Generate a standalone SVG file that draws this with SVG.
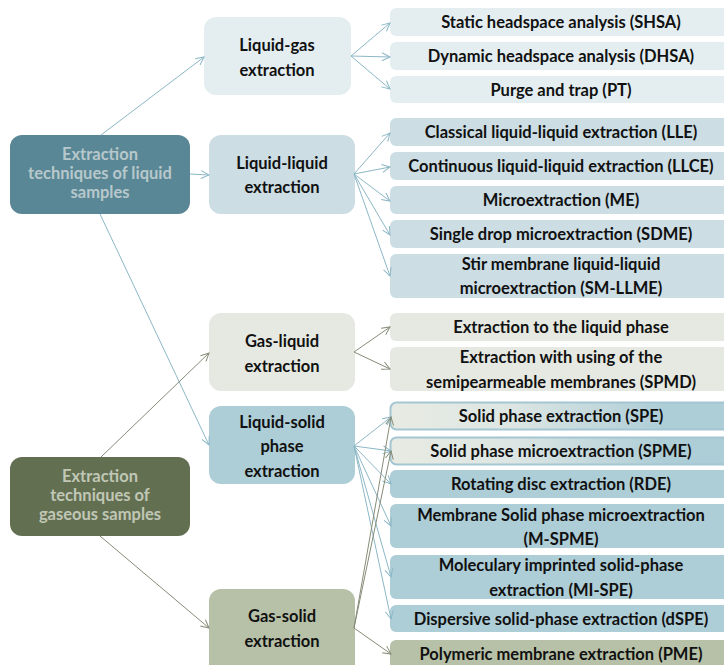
<svg xmlns="http://www.w3.org/2000/svg" width="724" height="665" viewBox="0 0 724 665">
<defs>
<style>
text{font-family:Lato,"Open Sans","Liberation Sans",sans-serif;font-weight:bold;text-anchor:middle;fill:#111}
.r{font-size:16.5px}
.m{font-size:16.5px}
.l{font-size:16.5px}
.lg{fill:#e4eef1}.ll{fill:#ccdde4}.gl{fill:#e6e9e1}.ls{fill:#adcdd7}.gs{fill:#b7c1a7}
.cb{stroke:#8cb7c6;stroke-width:1;fill:none}
.cg{stroke:#868c78;stroke-width:1;fill:none}
</style>
<marker id="ab" markerWidth="10" markerHeight="10" refX="9" refY="5" orient="auto" markerUnits="userSpaceOnUse"><path d="M1,1 L9,5 L1,9" fill="none" stroke="#8cb7c6" stroke-width="1"/></marker>
<marker id="ag" markerWidth="10" markerHeight="10" refX="9" refY="5" orient="auto" markerUnits="userSpaceOnUse"><path d="M1,1 L9,5 L1,9" fill="none" stroke="#868c78" stroke-width="1"/></marker>
<linearGradient id="gr" x1="0" y1="0" x2="1" y2="0"><stop offset="0" stop-color="#e8ebe3"/><stop offset="0.35" stop-color="#dde6e3"/><stop offset="0.8" stop-color="#adcdd7"/></linearGradient>
</defs>
<rect width="724" height="665" fill="#fff"/>

<g id="n-liquid-samples"><rect x="10" y="135" width="180" height="79" rx="12" fill="#5a8795"/><text class="l" x="100" y="160" style="fill:#b7c8cc">Extraction</text><text class="l" x="100" y="179" style="fill:#b7c8cc">techniques of liquid</text><text class="l" x="100" y="198" style="fill:#b7c8cc">samples</text></g>
<g id="n-gaseous-samples"><rect x="10" y="457" width="180" height="79" rx="12" fill="#636f51"/><text class="l" x="100" y="482" style="fill:#c0c7b6">Extraction</text><text class="l" x="100" y="501" style="fill:#c0c7b6">techniques of</text><text class="l" x="100" y="520" style="fill:#c0c7b6">gaseous samples</text></g>

<g id="n-liquid-gas"><rect class="lg" x="204" y="17" width="147" height="78" rx="12"/><text class="m" x="277" y="51">Liquid-gas</text><text class="m" x="277" y="76">extraction</text></g>
<g id="n-liquid-liquid"><rect class="ll" x="209" y="135" width="146" height="79" rx="12"/><text class="m" x="282" y="169">Liquid-liquid</text><text class="m" x="282" y="193">extraction</text></g>
<g id="n-gas-liquid"><rect class="gl" x="209" y="313" width="146" height="78" rx="12"/><text class="m" x="282" y="347">Gas-liquid</text><text class="m" x="282" y="372">extraction</text></g>
<g id="n-liquid-solid"><rect class="ls" x="209" y="406" width="146" height="78" rx="12"/><text class="m" x="282" y="428">Liquid-solid</text><text class="m" x="282" y="452">phase</text><text class="m" x="282" y="477">extraction</text></g>
<g id="n-gas-solid"><rect class="gs" x="209" y="589" width="146" height="90" rx="12"/><text class="m" x="282" y="622">Gas-solid</text><text class="m" x="282" y="647">extraction</text></g>

<g id="n-shsa"><rect class="lg" x="390" y="8" width="345" height="28" rx="6"/><text class="r" x="561" y="28">Static headspace analysis (SHSA)</text></g>
<g id="n-dhsa"><rect class="lg" x="390" y="42" width="345" height="28" rx="6"/><text class="r" x="561" y="62">Dynamic headspace analysis (DHSA)</text></g>
<g id="n-pt"><rect class="lg" x="390" y="76" width="345" height="27" rx="6"/><text class="r" x="561" y="96">Purge and trap (PT)</text></g>
<g id="n-lle"><rect class="ll" x="390" y="118" width="345" height="28" rx="6"/><text class="r" x="561" y="138">Classical  liquid-liquid  extraction (LLE)</text></g>
<g id="n-llce"><rect class="ll" x="390" y="152" width="345" height="28" rx="6"/><text class="r" x="561" y="172">Continuous  liquid-liquid  extraction (LLCE)</text></g>
<g id="n-me"><rect class="ll" x="390" y="186" width="345" height="28" rx="6"/><text class="r" x="561" y="206">Microextraction (ME)</text></g>
<g id="n-sdme"><rect class="ll" x="390" y="220" width="345" height="28" rx="6"/><text class="r" x="561" y="240">Single drop  microextraction (SDME)</text></g>
<g id="n-smllme"><rect class="ll" x="390" y="254" width="345" height="44" rx="6"/><text class="r" x="561" y="270">Stir membrane liquid-liquid</text><text class="r" x="561" y="294">microextraction (SM-LLME)</text></g>
<g id="n-elp"><rect class="gl" x="390" y="313" width="345" height="28" rx="6"/><text class="r" x="561" y="333">Extraction to the liquid phase</text></g>
<g id="n-spmd"><rect class="gl" x="390" y="347" width="345" height="44" rx="6"/><text class="r" x="561" y="363">Extraction with using of the</text><text class="r" x="561" y="388">semipearmeable membranes (SPMD)</text></g>
<g id="n-spe"><rect x="390.5" y="402.5" width="345" height="27" rx="6" fill="url(#gr)" stroke="#a3c6d2" stroke-width="2"/><text class="r" x="561" y="422">Solid phase extraction (SPE)</text></g>
<g id="n-spme"><rect x="390.5" y="437.5" width="345" height="27" rx="6" fill="url(#gr)" stroke="#a3c6d2" stroke-width="2"/><text class="r" x="561" y="457">Solid phase microextraction (SPME)</text></g>
<g id="n-rde"><rect class="ls" x="390" y="470" width="345" height="28" rx="6"/><text class="r" x="561" y="490">Rotating disc extraction (RDE)</text></g>
<g id="n-mspme"><rect class="ls" x="390" y="504" width="345" height="44" rx="6"/><text class="r" x="561" y="521">Membrane Solid phase microextraction</text><text class="r" x="561" y="545">(M-SPME)</text></g>
<g id="n-mispe"><rect class="ls" x="390" y="555" width="345" height="44" rx="6"/><text class="r" x="561" y="571">Moleculary imprinted solid-phase</text><text class="r" x="561" y="596">extraction (MI-SPE)</text></g>
<g id="n-dspe"><rect class="ls" x="390" y="605" width="345" height="27" rx="6"/><text class="r" x="561" y="625">Dispersive solid-phase extraction (dSPE)</text></g>
<g id="n-pme"><rect class="gs" x="390" y="640" width="345" height="40" rx="6"/><text class="r" x="561" y="660">Polymeric membrane extraction (PME)</text></g>

<g id="connectors">
<path class="cb" d="M101,135 L204,57" marker-end="url(#ab)"/>
<path class="cb" d="M190,174 L209,175" marker-end="url(#ab)"/>
<path class="cb" d="M100,214 L209,445" marker-end="url(#ab)"/>
<path class="cg" d="M101,457 L209,353" marker-end="url(#ag)"/>
<path class="cg" d="M100,536 L209,628" marker-end="url(#ag)"/>
<path class="cb" d="M351,56 L390,23" marker-end="url(#ab)"/>
<path class="cb" d="M351,56 L390,57" marker-end="url(#ab)"/>
<path class="cb" d="M351,56 L390,89" marker-end="url(#ab)"/>
<path class="cb" d="M354,174 L390,133" marker-end="url(#ab)"/>
<path class="cb" d="M354,174 L390,167" marker-end="url(#ab)"/>
<path class="cb" d="M354,174 L390,201" marker-end="url(#ab)"/>
<path class="cb" d="M354,174 L390,235" marker-end="url(#ab)"/>
<path class="cb" d="M354,174 L390,276" marker-end="url(#ab)"/>
<path class="cg" d="M354,352 L390,327" marker-end="url(#ag)"/>
<path class="cg" d="M354,352 L390,369" marker-end="url(#ag)"/>
<path class="cb" d="M354,446 L391,417" marker-end="url(#ab)"/>
<path class="cb" d="M354,446 L391,451" marker-end="url(#ab)"/>
<path class="cb" d="M354,446 L391,484" marker-end="url(#ab)"/>
<path class="cb" d="M354,446 L391,526" marker-end="url(#ab)"/>
<path class="cb" d="M354,446 L391,577" marker-end="url(#ab)"/>
<path class="cb" d="M354,446 L391,619" marker-end="url(#ab)"/>
<path class="cg" d="M354,628 L391,417" marker-end="url(#ag)"/>
<path class="cg" d="M354,628 L391,451" marker-end="url(#ag)"/>
<path class="cg" d="M354,628 L391,654" marker-end="url(#ag)"/>
</g>
</svg>
